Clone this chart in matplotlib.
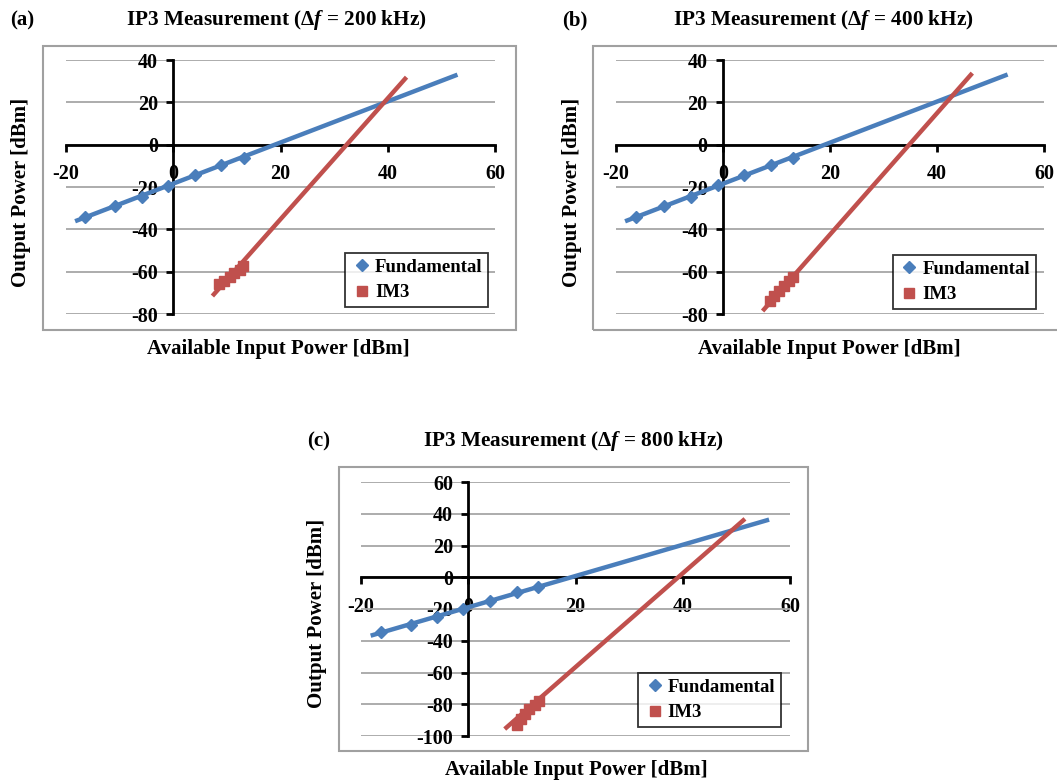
import numpy as np
import matplotlib.pyplot as plt
from matplotlib.patches import Rectangle

W, H = 1057, 782

# ---- values ----
# (a) df = 200 kHz
fund_x_a = [-16.4, -10.9, -5.8, -1.0, 4.0, 8.9, 13.2]
fund_y_a = [-34.3, -29.2, -24.5, -19.5, -14.2, -9.4, -6.4]
im3_x_a = [8.6, 9.5, 10.5, 11.4, 12.4, 13.1]
im3_y_a = [-66.0, -64.5, -62.5, -60.8, -59.0, -57.5]
fund_fit_a = [0.971, -18.4]
fund_span_a = [-18.3, 53.0]
im3_fit_a = [2.856, -92.35]
im3_span_a = [7.3, 43.5]

# (b) df = 400 kHz
fund_x_b = [-16.3, -11.0, -6.0, -1.0, 4.0, 9.0, 13.1]
fund_y_b = [-34.3, -29.2, -24.5, -19.2, -14.2, -9.4, -6.4]
im3_x_b = [8.7, 9.6, 10.5, 11.4, 12.3, 13.1]
im3_y_b = [-74.0, -71.5, -69.0, -67.0, -64.5, -62.5]
fund_fit_b = [0.970, -18.45]
fund_span_b = [-18.3, 53.2]
im3_fit_b = [2.867, -99.8]
im3_span_b = [7.4, 46.6]

# (c) df = 800 kHz
fund_x_c = [-16.3, -10.7, -5.9, -0.9, 4.1, 9.1, 13.1]
fund_y_c = [-34.7, -29.8, -25.2, -20.0, -14.7, -9.5, -6.3]
im3_x_c = [9.1, 9.9, 10.6, 11.4, 12.4, 13.2]
im3_y_c = [-93.0, -89.0, -86.0, -83.0, -80.5, -78.0]
fund_fit_c = [0.984, -18.9]
fund_span_c = [-18.2, 56.1]
im3_fit_c = [2.955, -115.7]
im3_span_c = [6.8, 51.6]

xticks = [-20, 0, 20, 40, 60]
yticks_ab = [-80, -60, -40, -20, 0, 20, 40]
yticks_c = [-100, -80, -60, -40, -20, 0, 20, 40, 60]

blue = '#4a7ebb'
red = '#c0504d'

plt.rcParams['font.family'] = ['Liberation Serif', 'DejaVu Serif']
plt.rcParams['font.weight'] = 'bold'
plt.rcParams['axes.unicode_minus'] = False
plt.rcParams['mathtext.fontset'] = 'custom'
plt.rcParams['mathtext.rm'] = 'Liberation Serif:bold'
plt.rcParams['mathtext.it'] = 'Liberation Serif:italic:bold'

fig = plt.figure(figsize=(W / 100, H / 100), dpi=100)


def fx(x):
    return x / W


def fy(y):
    return 1 - y / H


def panel(box, fx_, fy_, ix, iy, ffit, fspan, ifit, ispan, yticks, leg_anchor):
    l, t, r, b = box
    ax = fig.add_axes([fx(l), fy(b), (r - l) / W, (b - t) / H])
    ax.set_xlim(xticks[0], xticks[-1])
    ax.set_ylim(yticks[0], yticks[-1])
    ax.set_xticks(xticks)
    ax.set_yticks(yticks)
    ax.yaxis.grid(True, color='#a6a6a6', lw=1.3)
    ax.set_axisbelow(True)
    for s in ['top', 'right']:
        ax.spines[s].set_visible(False)
    ax.spines['left'].set_position(('data', 0))
    ax.spines['bottom'].set_position(('data', 0))
    for s in ['left', 'bottom']:
        ax.spines[s].set_linewidth(2)
        ax.spines[s].set_color('black')
    ax.tick_params(direction='out', length=5, width=2, labelsize=14.5)
    ax.tick_params(axis='x', pad=9)
    ax.tick_params(axis='y', pad=6)
    for lab in ax.get_xticklabels() + ax.get_yticklabels():
        lab.set_fontweight('bold')
    ax.patch.set_alpha(0)

    xs = np.array(fspan)
    ax.plot(xs, np.polyval(ffit, xs), color=blue, lw=3.2, zorder=3, solid_capstyle='butt')
    xs = np.array(ispan)
    ax.plot(xs, np.polyval(ifit, xs), color=red, lw=3.2, zorder=3, solid_capstyle='butt')
    ax.plot(fx_, fy_, ls='none', marker='D', ms=6, color=blue, label='Fundamental', zorder=4)
    ax.plot(ix, iy, ls='none', marker='s', ms=7.5, color=red, label='IM3', zorder=4)

    leg = ax.legend(loc='lower right', bbox_to_anchor=leg_anchor, borderaxespad=0,
                    frameon=True, fancybox=False, prop={'size': 13.5, 'weight': 'bold'},
                    handlelength=1.2, handletextpad=0.1, borderpad=0.3, labelspacing=0.45)
    leg.get_frame().set_edgecolor('black')
    leg.get_frame().set_linewidth(1.3)
    return ax


def chart_frame(l, t, r, b):
    fig.patches.append(Rectangle((fx(l), fy(b)), (r - l) / W, (b - t) / H,
                                 transform=fig.transFigure, fill=False,
                                 edgecolor='#a0a0a0', lw=1.5))


def labels(tag, tag_x, title, title_x, title_y, ylab_x, ylab_y, xlab_x, xlab_y):
    fig.text(fx(tag_x), fy(title_y), tag, ha='left', va='center', fontsize=15, fontweight='bold')
    fig.text(fx(title_x), fy(title_y), title, ha='center', va='center', fontsize=15.3, fontweight='bold')
    fig.text(fx(ylab_x), fy(ylab_y), 'Output Power [dBm]', rotation=90, ha='center', va='center',
             fontsize=15, fontweight='bold')
    fig.text(fx(xlab_x), fy(xlab_y), 'Available Input Power [dBm]', ha='center', va='center',
             fontsize=15, fontweight='bold')


chart_frame(43, 46, 516, 330)
chart_frame(593, 46, 1062, 330)
chart_frame(339, 467, 808, 751)

panel((66, 60, 495, 314), fund_x_a, fund_y_a, im3_x_a, im3_y_a,
      fund_fit_a, fund_span_a, im3_fit_a, im3_span_a, yticks_ab, (0.984, 0.028))
panel((616, 60, 1044, 314), fund_x_b, fund_y_b, im3_x_b, im3_y_b,
      fund_fit_b, fund_span_b, im3_fit_b, im3_span_b, yticks_ab, (0.981, 0.02))
panel((361, 482, 790, 736), fund_x_c, fund_y_c, im3_x_c, im3_y_c,
      fund_fit_c, fund_span_c, im3_fit_c, im3_span_c, yticks_c, (0.979, 0.035))

labels('(a)', 10, r'IP3 Measurement ($\mathit{\Delta f}$ = 200 kHz)', 276, 20, 21, 192, 278, 349)
labels('(b)', 562, r'IP3 Measurement ($\mathit{\Delta f}$ = 400 kHz)', 823, 20, 572, 192, 829, 349)
labels('(c)', 307, r'IP3 Measurement ($\mathit{\Delta f}$ = 800 kHz)', 573, 441, 317, 613, 576, 770)

fig.savefig('out.png', dpi=100)
